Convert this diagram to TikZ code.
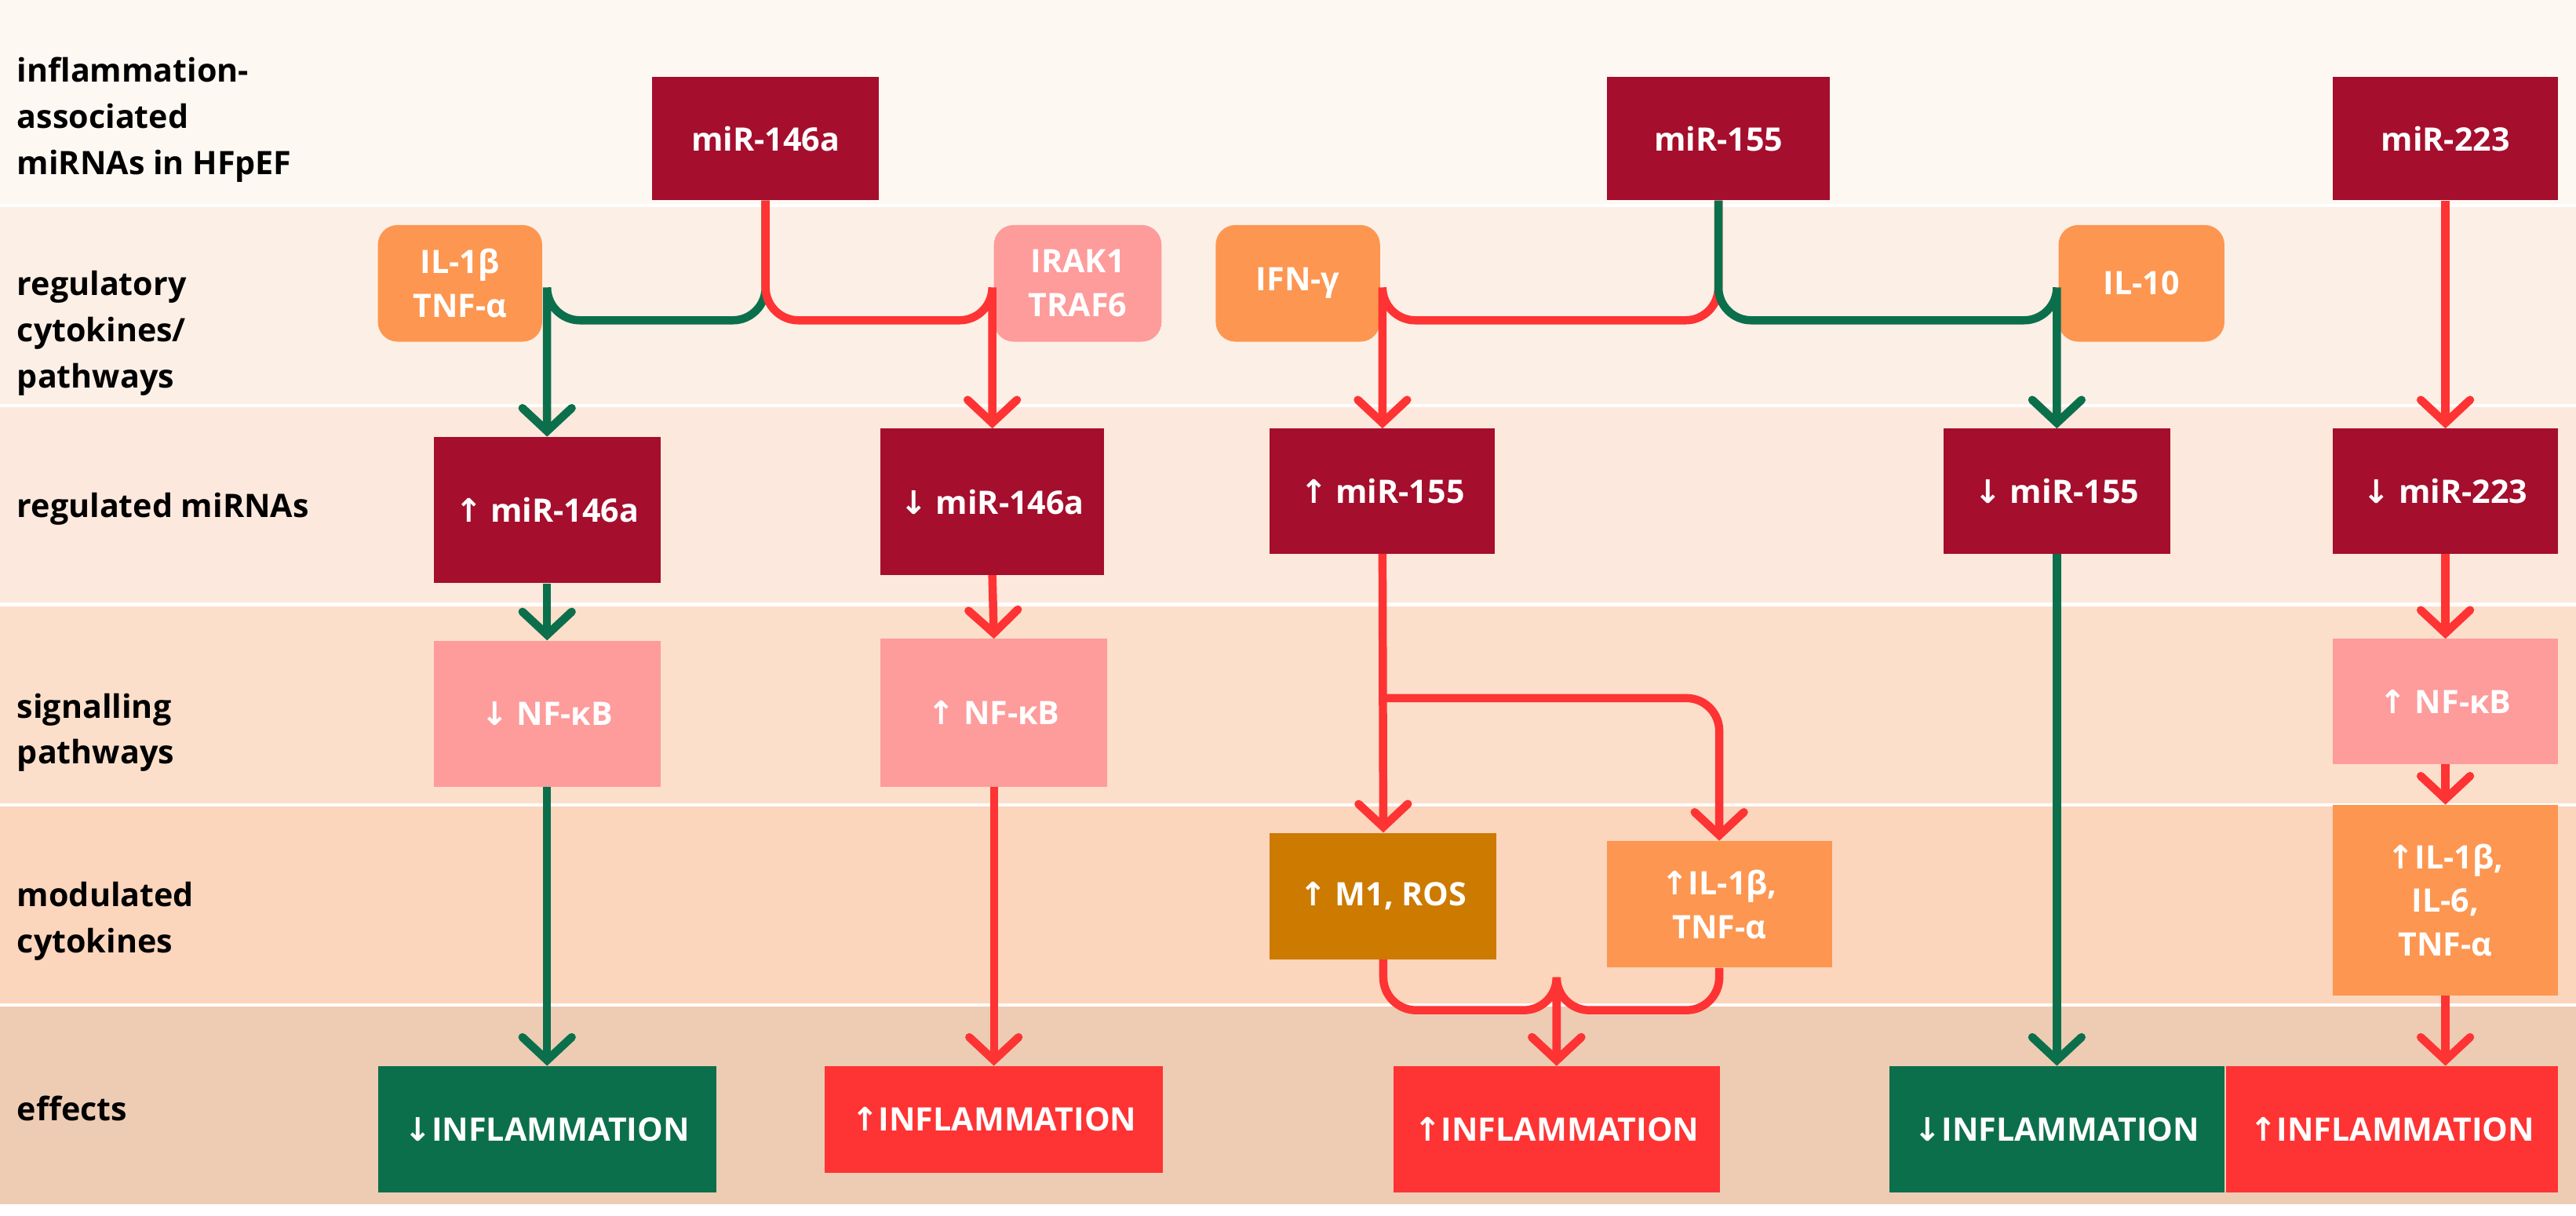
\documentclass[tikz,border=0pt]{standalone}
\usepackage{fontspec}
\setmainfont{Open Sans}
\newfontfamily\djv{DejaVu Sans}
\newcommand{\U}{{\djv ↑}}
\newcommand{\D}{{\djv ↓}}
\usetikzlibrary{arrows.meta}
\definecolor{dred}{HTML}{A50E2D}
\definecolor{dgreen}{HTML}{0C6F4C}
\definecolor{lred}{HTML}{FE3333}
\definecolor{lorange}{HTML}{FD9650}
\definecolor{lpink}{HTML}{FE9B9B}
\definecolor{gold}{HTML}{CC7A00}
\definecolor{bA}{HTML}{FEF8F2}
\definecolor{bB}{HTML}{FCEFE6}
\definecolor{bC}{HTML}{FCE8DC}
\definecolor{bD}{HTML}{FCDFCA}
\definecolor{bE}{HTML}{FBD5BC}
\definecolor{bF}{HTML}{EECCB4}
\newcommand{\bx}[7]{\node[box,fill=#6,minimum width={(#4-#2)*0.05cm},minimum height={(#5-#3)*0.05cm}] (#1) at ({(#2+#4)/2},{(#3+#5)/2}) {#7};}
\newcommand{\rbx}[7]{\node[box,rounded corners=0.6cm,fill=#6,minimum width={(#4-#2)*0.05cm},minimum height={(#5-#3)*0.05cm}] (#1) at ({(#2+#4)/2},{(#3+#5)/2}) {#7};}
\begin{document}
\begin{tikzpicture}[x=0.05cm,y=-0.05cm,
  box/.style={draw=none,inner sep=0pt,text=white,font=\fontsize{28}{38}\selectfont\bfseries,align=center},
  lab/.style={anchor=west,align=left,font=\fontsize{28}{40}\selectfont\bfseries,text=black},
  con/.style={line width=0.25cm,rounded corners=1cm,-{Straight Barb[length=0.7cm,width=1.5cm,line cap=round]}},
  g/.style={con,draw=dgreen},
  r/.style={con,draw=lred}]
\useasboundingbox (0,0) rectangle (1568,740);
\fill[white] (0,0) rectangle (1568,740);
\fill[bA] (0,0) rectangle (1568,124);
\fill[bB] (0,126) rectangle (1568,246);
\fill[bC] (0,248) rectangle (1568,367);
\fill[bD] (0,369) rectangle (1568,489);
\fill[bE] (0,491) rectangle (1568,611);
\fill[bF] (0,613) rectangle (1568,733);
\node[lab] (l1) at (8,73) {inflammation-\\associated\\miRNAs in HFpEF};
\node[lab] (l2) at (8,203) {regulatory\\cytokines/\\pathways};
\node[lab] (l3) at (8,310) {regulated miRNAs};
\node[lab] (l4) at (8,446) {signalling\\pathways};
\node[lab] (l5) at (8,561) {modulated\\cytokines};
\node[lab] (l6) at (8,675) {effects};
\bx{m146}{397}{47}{535}{122}{dred}{miR-146a}
\bx{m155}{978}{47}{1114}{122}{dred}{miR-155}
\bx{m223}{1420}{47}{1557}{122}{dred}{miR-223}
\rbx{c1}{230}{137}{330}{208}{lorange}{IL-1β\\TNF-α}
\rbx{c2}{605}{137}{707}{208}{lpink}{IRAK1\\TRAF6}
\rbx{c3}{740}{137}{840}{208}{lorange}{IFN-γ}
\rbx{c4}{1253}{137}{1354}{208}{lorange}{IL-10}
\bx{u146}{264}{266}{402}{355}{dred}{\U\ miR-146a}
\bx{d146}{536}{261}{672}{350}{dred}{\D\ miR-146a}
\bx{u155}{773}{261}{910}{337}{dred}{\U\ miR-155}
\bx{d155}{1183}{261}{1321}{337}{dred}{\D\ miR-155}
\bx{d223}{1420}{261}{1557}{337}{dred}{\D\ miR-223}
\bx{n1}{264}{390}{402}{479}{lpink}{\D\ NF-κB}
\bx{n2}{536}{389}{674}{479}{lpink}{\U\ NF-κB}
\bx{n3}{1420}{389}{1557}{465}{lpink}{\U\ NF-κB}
\bx{m1}{773}{507}{911}{584}{gold}{\U\ M1, ROS}
\bx{il2}{978}{512}{1115}{589}{lorange}{\U IL-1β,\\TNF-α}
\bx{il3}{1420}{490}{1557}{606}{lorange}{\U IL-1β,\\IL-6,\\TNF-α}
\bx{e1}{230}{649}{436}{726}{dgreen}{\D INFLAMMATION}
\bx{e2}{502}{649}{708}{714}{lred}{\U INFLAMMATION}
\bx{e3}{848}{649}{1047}{726}{lred}{\U INFLAMMATION}
\bx{e4}{1150}{649}{1354}{726}{dgreen}{\D INFLAMMATION}
\bx{e5}{1355}{649}{1557}{726}{lred}{\U INFLAMMATION}
\coordinate (s1) at (0,195);
\coordinate (s2) at (0,425);
\coordinate (s3) at (0,615);
\draw[g] (m146.south) |- (u146.north |- s1) -| (u146.north);
\draw[r] (m146.south) |- (d146.north |- s1) -| (d146.north);
\draw[r] (m155.south) |- (u155.north |- s1) -| (u155.north);
\draw[g] (m155.south) |- (d155.north |- s1) -| (d155.north);
\draw[r] (m223.south) -- (d223.north);
\draw[g] (u146.south) -- (n1.north);
\draw[g] (n1.south) -- (e1.north);
\draw[r] (d146.south) -- (n2.north);
\draw[r] (n2.south) -- (e2.north);
\draw[r] (u155.south) -- (m1.north);
\draw[r] (u155.south |- s2) -| (il2.north);
\draw[r] (m1.south) |- (e3.north |- s3) -| (e3.north);
\draw[r] (il2.south) |- (e3.north |- s3) -| (e3.north);
\draw[g] (d155.south) -- (e4.north);
\draw[r] (d223.south) -- (n3.north);
\draw[r] (n3.south) -- (il3.north);
\draw[r] (il3.south) -- (il3.south |- e5.north);
\end{tikzpicture}
\end{document}
